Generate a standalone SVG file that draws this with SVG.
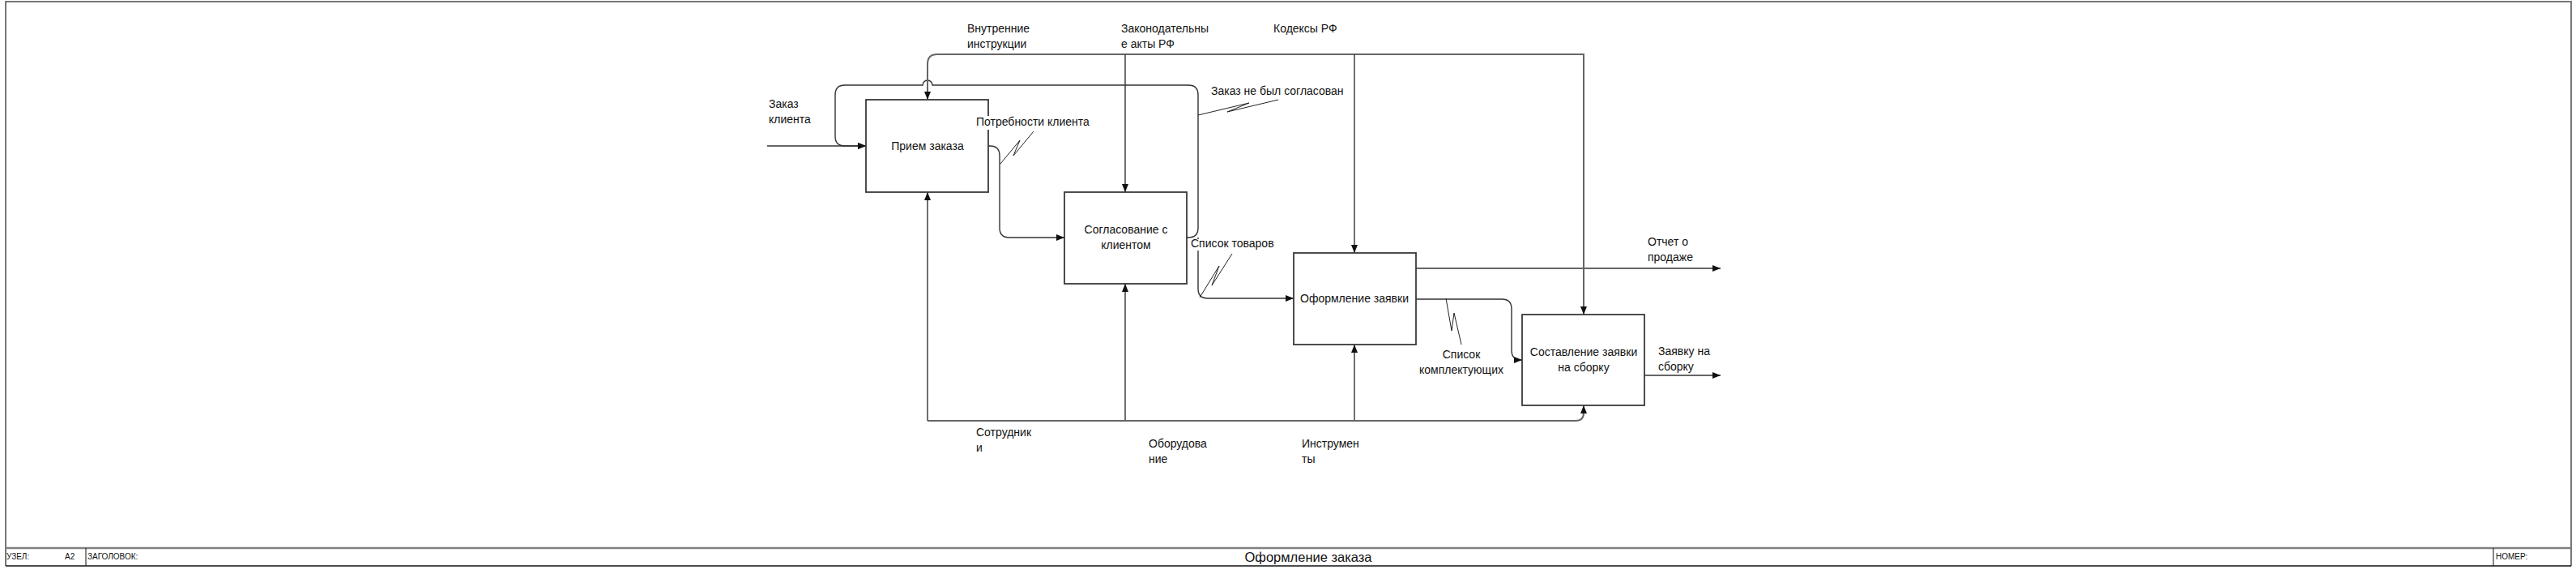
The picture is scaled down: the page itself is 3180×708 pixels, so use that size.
<svg xmlns="http://www.w3.org/2000/svg" width="3180" height="708" viewBox="0 0 3180 708">
<style>
text{font-family:"Liberation Sans",Arial,sans-serif;font-size:14px;fill:#111}
.c{text-anchor:middle}
.box{fill:#fff;stroke:#3a3a3a;stroke-width:1.8}
.ln{fill:none;stroke:#333;stroke-width:1.4}
.gl{fill:none;stroke:#666;stroke-width:2}
.sq{fill:none;stroke:#222;stroke-width:1}
.ft{font-size:10px}
.bg{fill:#fff}
</style>
<defs>
<marker id="ah" viewBox="0 0 10 8" refX="10" refY="4" markerWidth="10" markerHeight="8" markerUnits="userSpaceOnUse" orient="auto">
<path d="M0,0 L10,4 L0,8 Z" fill="#111"/>
</marker>
</defs>
<rect width="3180" height="708" fill="#fff"/>
<g id="frame">
<path d="M7,698 V2 H3174 V698" fill="none" stroke="#777" stroke-width="2"/>
<line x1="7" y1="676" x2="3174" y2="676" stroke="#808080" stroke-width="2.5"/>
<line x1="7" y1="698" x2="3174" y2="698" stroke="#111" stroke-width="1.5"/>
<line x1="106" y1="676" x2="106" y2="698" stroke="#111" stroke-width="1"/>
<line x1="3078" y1="676" x2="3078" y2="698" stroke="#111" stroke-width="1"/>
<text class="ft" x="8" y="690">УЗЕЛ:</text>
<text class="ft" x="80" y="690">A2</text>
<text class="ft" x="108" y="690">ЗАГОЛОВОК:</text>
<text x="1615" y="693" class="c" style="font-size:16.5px">Оформление заказа</text>
<text class="ft" x="3081" y="690">НОМЕР:</text>
</g>
<g id="connectors">
<line class="ln" x1="947" y1="180" x2="1069" y2="180" marker-end="url(#ah)"/>
<path class="ln" d="M1465,293 H1467 Q1479,293 1479,281 V117 Q1479,105 1467,105 H1151 A6,6 0 0 0 1139,105 H1043 Q1031,105 1031,117 V168 Q1031,180 1043,180 H1069" marker-end="url(#ah)"/>
<path class="gl" d="M1955,388 V67 H1157 Q1145,67 1145,79 V123" marker-end="url(#ah)"/>
<line class="ln" x1="1389" y1="67" x2="1389" y2="237" marker-end="url(#ah)"/>
<line class="ln" x1="1672" y1="67" x2="1672" y2="312" marker-end="url(#ah)"/>
<line class="gl" x1="1955" y1="300" x2="1955" y2="388" marker-end="url(#ah)"/>
<path class="ln" d="M1220,180 H1222 Q1234,180 1234,192 V281 Q1234,293 1246,293 H1314" marker-end="url(#ah)"/>
<path class="ln" d="M1479,293 V356 Q1479,368 1491,368 H1597" marker-end="url(#ah)"/>
<line class="gl" x1="1748" y1="331" x2="2124" y2="331" marker-end="url(#ah)"/>
<path class="ln" d="M1748,369 H1854 Q1866,369 1866,381 V432 Q1866,444 1878,444 H1879" marker-end="url(#ah)"/>
<line class="gl" x1="2030" y1="463" x2="2124" y2="463" marker-end="url(#ah)"/>
<line class="ln" x1="1145" y1="519" x2="1145" y2="237" marker-end="url(#ah)"/>
<line class="ln" x1="1389" y1="519" x2="1389" y2="350" marker-end="url(#ah)"/>
<line class="ln" x1="1672" y1="519" x2="1672" y2="425" marker-end="url(#ah)"/>
<path class="gl" d="M1145,519 H1945 Q1955,519 1955,509 V500" marker-end="url(#ah)"/>
<polyline class="sq" points="1235,202 1259,173 1251,192 1276,162"/>
<polyline class="sq" points="1479,142 1542,127 1515,138 1578,123"/>
<polyline class="sq" points="1481,367 1505,328 1496,352 1521,313"/>
<polyline class="sq" points="1785,368 1792,408 1795,386 1804,425"/>
</g>
<g id="node-a1">
<rect class="box" x="1069" y="123" width="151" height="114"/>
<text x="1145" y="185" class="c">Прием заказа</text>
</g>
<g id="node-a2">
<rect class="box" x="1314" y="237" width="151" height="113"/>
<text x="1390" y="288" class="c">Согласование с</text>
<text x="1390" y="307" class="c">клиентом</text>
</g>
<g id="node-a3">
<rect class="box" x="1597" y="312" width="151" height="113"/>
<text x="1672" y="373" class="c">Оформление заявки</text>
</g>
<g id="node-a4">
<rect class="box" x="1879" y="388" width="151" height="112"/>
<text x="1955" y="439" class="c">Составление заявки</text>
<text x="1955" y="458" class="c">на сборку</text>
</g>
<g id="labels">
<text x="1194" y="40">Внутренние</text>
<text x="1194" y="59">инструкции</text>
<text x="1384" y="40">Законодательны</text>
<text x="1384" y="59">е акты РФ</text>
<text x="1572" y="40">Кодексы  РФ</text>
<text x="949" y="133">Заказ</text>
<text x="949" y="152">клиента</text>
<rect class="bg" x="1203" y="143" width="142" height="17"/>
<text x="1205" y="155">Потребности клиента</text>
<text x="1495" y="117">Заказ не был согласован</text>
<rect class="bg" x="1468" y="295" width="100" height="14"/>
<text x="1470" y="305">Список товаров</text>
<text x="2034" y="303">Отчет о</text>
<text x="2034" y="322">продаже</text>
<text x="1804" y="442" class="c">Список</text>
<text x="1804" y="461" class="c">комплектующих</text>
<text x="2047" y="438">Заявку на</text>
<text x="2047" y="457">сборку</text>
<text x="1205" y="538">Сотрудник</text>
<text x="1205" y="557">и</text>
<text x="1418" y="552">Оборудова</text>
<text x="1418" y="571">ние</text>
<text x="1607" y="552">Инструмен</text>
<text x="1607" y="571">ты</text>
</g>
</svg>
